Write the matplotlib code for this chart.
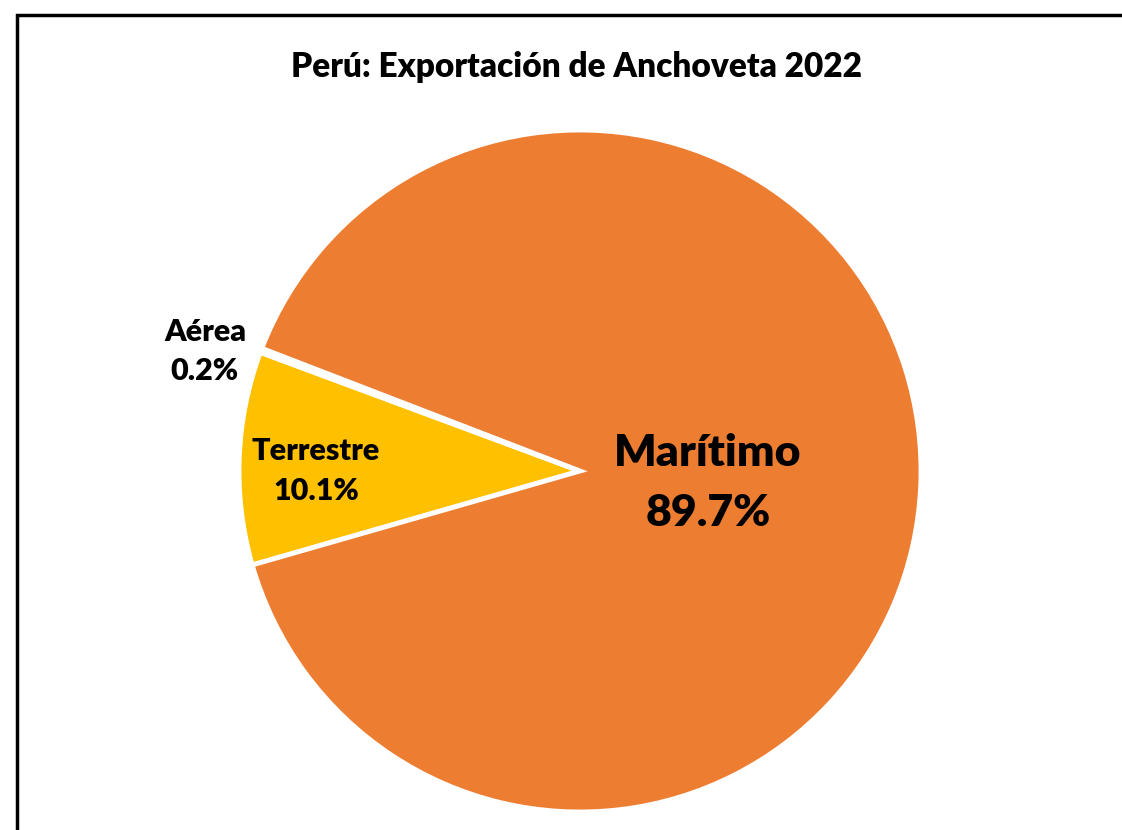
import matplotlib
matplotlib.use("Agg")
import matplotlib.pyplot as plt
from matplotlib.patches import Rectangle

categories = ["Terrestre", "Aérea", "Marítimo"]
shares = [10.1, 0.2, 89.7]
colors = ["#FFC000", "#A5A5A5", "#ED7D31"]
title = "Perú: Exportación de Anchoveta 2022"

plt.rcParams['font.family'] = ['Lato', 'DejaVu Sans']

W, H = 1122, 830
fig = plt.figure(figsize=(W/100, H/100), dpi=100)
cx, cy, r = 580, 471, 341
ax = fig.add_axes([(cx - r)/W, (H - cy - r)/H, 2*r/W, 2*r/H])
ax.pie(shares, colors=colors, startangle=196, counterclock=False,
       wedgeprops=dict(edgecolor="white", linewidth=3.5), radius=1)
ax.set_xlim(-1.0, 1.0)
ax.set_ylim(-1.0, 1.0)
ax.set_aspect("equal")

label_pos = {"Terrestre": (-0.774, 0.0, 22, 1.5), "Aérea": (-1.10, 0.35, 22, 1.5),
             "Marítimo": (0.375, -0.035, 32, 1.6)}
for cat, v in zip(categories, shares):
    x, y, fs, ls = label_pos[cat]
    ax.text(x, y, f"{cat}\n{v:.1f}%", ha="center", va="center", fontsize=fs,
            fontweight="heavy", color="black", linespacing=ls, clip_on=False)

fig.text(576/W, 1 - 67/H, title, ha="center", va="center", fontsize=24,
         fontweight="heavy")

fig.patches.append(Rectangle((17/W, -0.1), 1.2, 1 - 15/H + 0.1, transform=fig.transFigure,
                             fill=False, edgecolor="black", linewidth=2.5))

fig.savefig("out.png", dpi=100)
